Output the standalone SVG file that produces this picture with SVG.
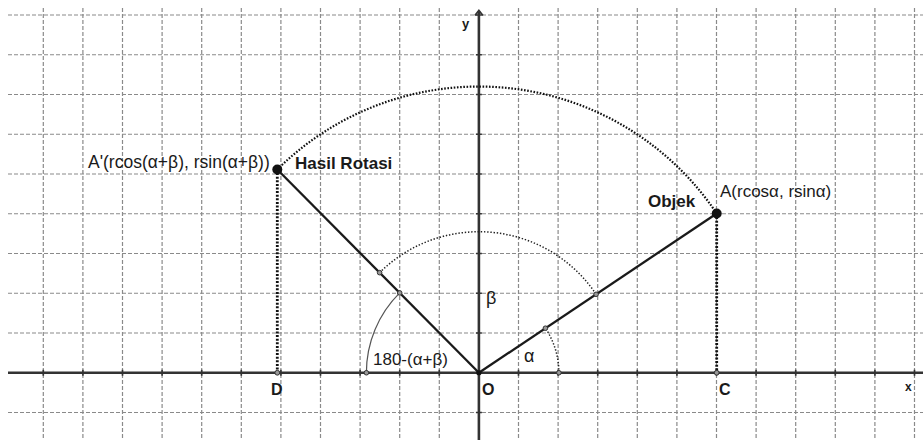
<svg xmlns="http://www.w3.org/2000/svg" width="923" height="440" viewBox="0 0 923 440">
<style>
.grid{fill:none;stroke:#8a8a8a;stroke-width:1.2;stroke-dasharray:4 2}
.axis{fill:none;stroke:#333;stroke-width:2.6}
.tick{fill:none;stroke:#333;stroke-width:1.6}
.seg{fill:none;stroke:#1a1a1a;stroke-width:2.3}
.bigdot{fill:none;stroke:#111;stroke-width:2.2;stroke-dasharray:1.6 1.6}
.proj{fill:none;stroke:#111;stroke-width:2.8;stroke-dasharray:2 1.6}
.arcdot{fill:none;stroke:#222;stroke-width:1.5;stroke-dasharray:1.4 1.8}
.arcthin{fill:none;stroke:#555;stroke-width:1.2}
.pt{fill:#111}
.sm{fill:#999;stroke:#333;stroke-width:1}
.t{font-family:"Liberation Sans",Arial,sans-serif;fill:#1a1a1a}
.b{font-family:"Liberation Sans",Arial,sans-serif;font-weight:bold;fill:#1a1a1a}
</style>
<rect width="923" height="440" fill="#fff"/>
<g id="grid">
<path class="grid" d="M43.3 8V440M82.9 8V440M122.5 8V440M162.1 8V440M201.7 8V440M241.3 8V440M280.9 8V440M320.5 8V440M360.1 8V440M399.7 8V440M439.3 8V440M518.5 8V440M558.1 8V440M597.7 8V440M637.3 8V440M676.9 8V440M716.5 8V440M756.1 8V440M795.7 8V440M835.3 8V440M874.9 8V440M914.5 8V440"/>
<path class="grid" d="M8 15H923M8 54.75H923M8 94.5H923M8 134.25H923M8 174H923M8 213.75H923M8 253.5H923M8 293.25H923M8 333H923M8 412.5H923"/>
</g>
<g id="axes">
<path class="axis" d="M8 372.75H923"/>
<path class="axis" d="M478.9 440V11"/>
<path fill="none" stroke="#333" stroke-width="1.8" d="M474.9 15.5L478.9 10.5L482.9 15.5"/>
<path class="tick" d="M43.3 369.75v6M82.9 369.75v6M122.5 369.75v6M162.1 369.75v6M201.7 369.75v6M241.3 369.75v6M280.9 369.75v6M320.5 369.75v6M360.1 369.75v6M399.7 369.75v6M439.3 369.75v6M518.5 369.75v6M558.1 369.75v6M597.7 369.75v6M637.3 369.75v6M676.9 369.75v6M716.5 369.75v6M756.1 369.75v6M795.7 369.75v6M835.3 369.75v6M874.9 369.75v6M914.5 369.75v6"/>
<path class="tick" d="M475.9 15h6M475.9 54.75h6M475.9 94.5h6M475.9 134.25h6M475.9 174h6M475.9 213.75h6M475.9 253.5h6M475.9 293.25h6M475.9 333h6M475.9 412.5h6"/>
<text class="b" x="462" y="28" font-size="13">y</text>
<text class="b" x="905" y="391" font-size="12">x</text>
</g>
<g id="connectors">
<path id="arc-rotation" class="bigdot" d="M277.3 169.5A286.3 286.3 0 0 1 716.7 213.5"/>
<path id="proj-A" class="proj" d="M716.7 213.5V372.75"/>
<path id="proj-A2" class="proj" d="M277.3 169.5V372.75"/>
<path id="seg-OA" class="seg" d="M478.9 372.75L716.7 213.5"/>
<path id="seg-OA2" class="seg" d="M478.9 372.75L277.3 169.5"/>
<path id="arc-alpha" class="arcdot" d="M558.9 372.75A80 80 0 0 0 545.4 328.2"/>
<path id="arc-beta" class="arcdot" d="M379.6 272.65A141 141 0 0 1 596.1 294.3"/>
<path id="arc-supp" class="arcthin" d="M399.7 292.9A112.5 112.5 0 0 0 366.4 372.75"/>
</g>
<g id="node-A">
<circle class="pt" cx="716.7" cy="213.5" r="5"/>
<text class="t" x="720" y="197" font-size="17">A(rcosα, rsinα)</text>
<text class="b" x="648" y="207" font-size="17">Objek</text>
</g>
<g id="node-A2">
<circle class="pt" cx="277.3" cy="169.5" r="5"/>
<text class="t" x="88" y="168" font-size="17.5">A'(rcos(α+β), rsin(α+β))</text>
<text class="b" x="295" y="169" font-size="17">Hasil Rotasi</text>
</g>
<g id="node-O">
<circle class="pt" cx="478.9" cy="372.75" r="2.6"/>
<text class="b" x="482" y="395" font-size="16">O</text>
</g>
<g id="node-C">
<circle class="sm" cx="716.7" cy="372.75" r="2.4"/>
<text class="b" x="719" y="395" font-size="16">C</text>
</g>
<g id="node-D">
<circle class="sm" cx="277.3" cy="372.75" r="2.4"/>
<text class="b" x="271" y="395" font-size="16">D</text>
</g>
<g id="angle-marks">
<circle class="sm" cx="558.9" cy="372.75" r="2.3"/>
<circle class="sm" cx="545.4" cy="328.2" r="2.3"/>
<circle class="sm" cx="596.1" cy="294.3" r="2.3"/>
<circle class="sm" cx="379.6" cy="272.65" r="2.3"/>
<circle class="sm" cx="399.7" cy="292.9" r="2.3"/>
<circle class="sm" cx="366.4" cy="372.75" r="2.3"/>
<text class="t" x="524" y="362" font-size="18">α</text>
<text class="t" x="486" y="304" font-size="18">β</text>
<text class="t" x="373" y="365" font-size="17">180-(α+β)</text>
</g>
</svg>
